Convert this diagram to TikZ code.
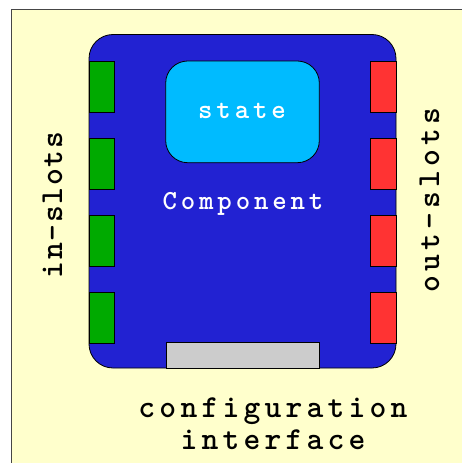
\documentclass[tikz,border=0pt]{standalone}
\usepackage{fontspec}
% Typewriter bold, tracked out, for all labels
\newfontfamily\outerfont{lmmonolt10-bold.otf}[LetterSpace=13.2]
\newfontfamily\sidefont{lmmonolt10-bold.otf}[LetterSpace=5.5]
\newfontfamily\innerfont{lmmonolt10-bold.otf}[LetterSpace=14]

\definecolor{paper}{RGB}{255,255,204}
\definecolor{frame}{RGB}{70,70,70}
\definecolor{compblue}{RGB}{34,34,210}
\definecolor{statecyan}{RGB}{0,187,255}
\definecolor{slotgreen}{RGB}{0,170,0}
\definecolor{slotred}{RGB}{255,51,51}
\definecolor{cfggray}{RGB}{204,204,204}

\tikzset{
  box/.style={draw=black, line width=0.8pt, inner sep=0pt, outer sep=0pt, rectangle},
  compbox/.style={box, fill=compblue, rounded corners=24pt,
    minimum width=307pt, minimum height=333.5pt},
  statebox/.style={box, fill=statecyan, rounded corners=22pt,
    minimum width=153.6pt, minimum height=101.7pt},
  inslot/.style={box, fill=slotgreen, minimum width=25.3pt, minimum height=51.5pt},
  outslot/.style={box, fill=slotred, minimum width=25.7pt, minimum height=51.5pt},
  cfgbar/.style={box, fill=cfggray, minimum width=153pt, minimum height=25.3pt},
  innerlbl/.style={inner sep=0pt, anchor=base, text=white,
    font=\innerfont\fontsize{27.5}{30}\selectfont},
  outerlbl/.style={inner sep=0pt, anchor=base, text=black,
    font=\outerfont\fontsize{32}{32}\selectfont},
}

\begin{document}
\begin{tikzpicture}[x=1pt, y=-1pt]
  \useasboundingbox (0,0) rectangle (462,463);
  \fill[white] (0,0) rectangle (462,463);

  % paper panel, running off the right and bottom edges
  \begin{scope}
    \clip (0,0) rectangle (462,463);
    \draw[frame, fill=paper, line width=1.2pt] (11.7,9.5) rectangle (480,480);
  \end{scope}

  % the component body
  \node[compbox] (comp) at (242.5,201.25) {};
  \node[statebox] (state) at (242.5,111.85) {};
  \node[cfgbar] (cfg) at (242.5,355.35) {};

  % input and output slots
  \foreach \i/\y in {1/86.75, 2/163.75, 3/240.75, 4/317.75} {
    \node[inslot] (in\i) at (101.65,\y) {};
    \node[outslot] (out\i) at (383.15,\y) {};
  }

  % labels
  \node[innerlbl] (statelbl) at (242,118.3) {state};
  \node[innerlbl] (complbl) at (243,209.3) {Component};
  \node[outerlbl] (cfglbl1) at (273,417) {configuration};
  \node[outerlbl] (cfglbl2) at (273,449) {interface};
  \node[outerlbl, font=\sidefont\fontsize{32}{32}\selectfont, rotate=90]
    (inlbl) at (62,205) {in-slots};
  \node[outerlbl, rotate=90] (outlbl) at (439,200) {out-slots};
\end{tikzpicture}
\end{document}
